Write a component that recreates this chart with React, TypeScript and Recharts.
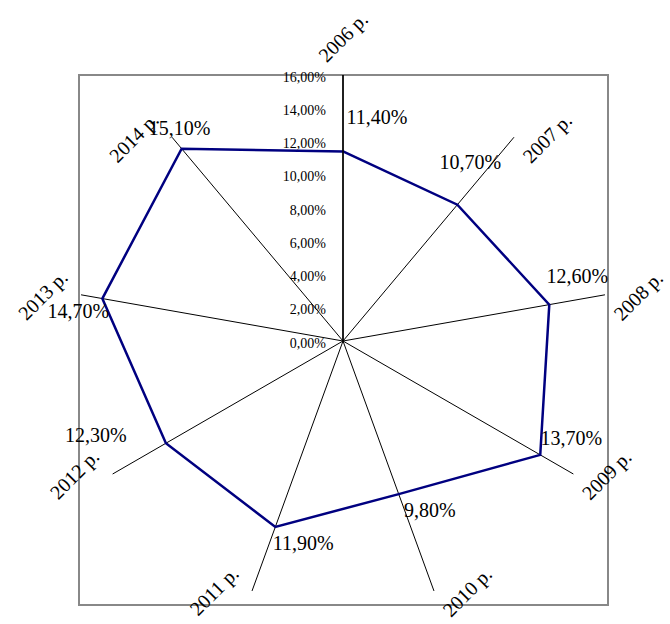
import { RadarChart, Radar, PolarGrid, PolarAngleAxis, PolarRadiusAxis, LabelList } from 'recharts';

const years = ['2006 р.', '2007 р.', '2008 р.', '2009 р.', '2010 р.', '2011 р.', '2012 р.', '2013 р.', '2014 р.'];
const growth = [11.4, 10.7, 12.6, 13.7, 9.8, 11.9, 12.3, 14.7, 15.1];
const radiusTicks = [0, 2, 4, 6, 8, 10, 12, 14, 16];

// where each value label sits relative to its point (Excel placed them by hand-ish)
const labelOffsets = [
  [34, -34], [13, -43], [28, -29], [31, -17], [31, 16],
  [28, 16], [-70, -8], [-24, 12], [-2, -21],
];

const data = years.map((year, i) => ({ year, value: growth[i] }));

const CX = 343;
const CY = 341;
const R = 266;
const FONT = '"Liberation Serif", "Times New Roman", serif';

const fmt = (v: number) => v.toFixed(2).replace('.', ',') + '%';

function YearTick(props: any) {
  const { x, y, payload } = props;
  const dx = x - CX;
  const dy = y - CY;
  const len = Math.sqrt(dx * dx + dy * dy) || 1;
  const ex = CX + (dx / len) * R;
  const ey = CY + (dy / len) * R;
  let px = ex;
  let py = ey;
  let anchor = 'middle';
  if (Math.abs(dx) < 1) {
    py = ey - 38;
    return (
      <text x={px} y={py} textAnchor="middle" dominantBaseline="central" fontSize={20} fontFamily={FONT} fill="#000"
        transform={`rotate(-45 ${px} ${py})`}>
        {payload.value}
      </text>
    );
  }
  if (dx > 0) {
    px = ex + 17;
    py = ey + 27;
    anchor = 'start';
  } else {
    px = ex - 12;
    py = ey - 16;
    anchor = 'end';
  }
  return (
    <text x={px} y={py} textAnchor={anchor} fontSize={20} fontFamily={FONT} fill="#000"
      transform={`rotate(-45 ${px} ${py})`}>
      {payload.value}
    </text>
  );
}

function RadiusTick(props: any) {
  const { x, y, payload } = props;
  return (
    <text x={x - 17} y={y + 2} textAnchor="end" dominantBaseline="central" fontSize={14} fontFamily={FONT} fill="#000">
      {fmt(payload.value)}
    </text>
  );
}

function ValueLabel(props: any) {
  const { x, y, value, index } = props;
  const [ox, oy] = labelOffsets[index] || [0, 0];
  return (
    <text x={x + ox} y={y + oy} textAnchor="middle" dominantBaseline="central" fontSize={20} fontFamily={FONT} fill="#000">
      {fmt(value)}
    </text>
  );
}

export default function App() {
  return (
    <div style={{ position: 'absolute', left: 0, top: 0, width: 670, height: 624, background: '#fff', overflow: 'hidden' }}>
      <div style={{ position: 'absolute', left: 78, top: 74, width: 527, height: 528, border: '2.5px solid #888' }} />
      <div style={{ position: 'absolute', left: 0, top: 0 }}>
        <RadarChart width={670} height={624} data={data} cx={CX} cy={CY} outerRadius={R} margin={{ top: 0, right: 0, bottom: 0, left: 0 }}>
          <PolarGrid gridType="polygon" polarRadius={[]} stroke="#000" strokeWidth={1} />
          <PolarAngleAxis dataKey="year" tickLine={false} axisLine={false} tick={<YearTick />} />
          <PolarRadiusAxis angle={90} domain={[0, 16]} ticks={radiusTicks} tickCount={9} axisLine={{ stroke: '#000', strokeWidth: 1.5 }}
            tickLine={false} tick={<RadiusTick />} />
          <Radar dataKey="value" stroke="#000080" strokeWidth={2.5} fill="none" fillOpacity={0} dot={false} isAnimationActive={false}>
            <LabelList dataKey="value" content={<ValueLabel />} />
          </Radar>
        </RadarChart>
      </div>
    </div>
  );
}
